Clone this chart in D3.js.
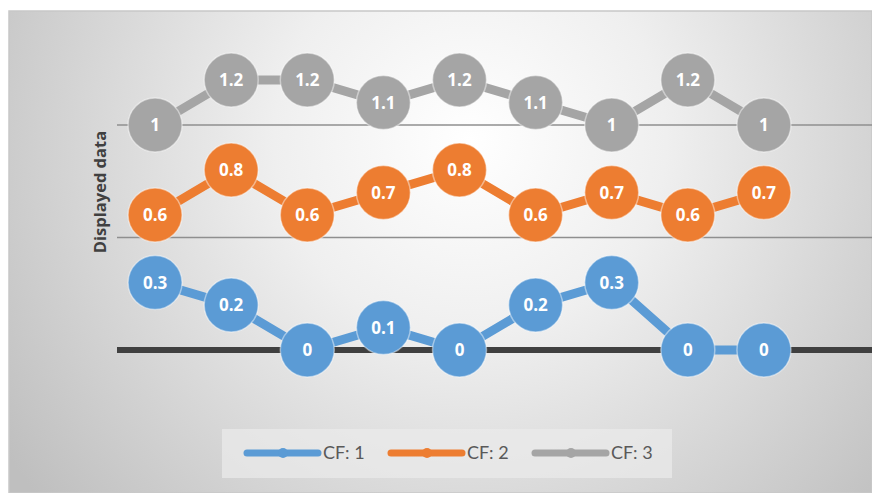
<!DOCTYPE html>
<html>
<head>
<meta charset="utf-8">
<script src="https://cdn.jsdelivr.net/npm/d3@7"></script>
<style>
  body { margin: 0; background: #fff; }
  svg { display: block; }
</style>
</head>
<body>
<svg width="872" height="493"></svg>
<script>
'use strict'

// data
var categories = [1, 2, 3, 4, 5, 6, 7, 8, 9];
var cf1 = [0.3, 0.2, 0, 0.1, 0, 0.2, 0.3, 0, 0];
var cf2 = [0.6, 0.8, 0.6, 0.7, 0.8, 0.6, 0.7, 0.6, 0.7];
var cf3 = [1, 1.2, 1.2, 1.1, 1.2, 1.1, 1, 1.2, 1];
var seriesNames = ["CF: 1", "CF: 2", "CF: 3"];
var seriesColours = ["#5b9bd5", "#ed7d31", "#a5a5a5"];
var gridTicks = [0, 0.5, 1];
var axisTitle = "Displayed data";

var svg = d3.select("svg"),
  width = +svg.attr("width"),
  height = +svg.attr("height");

var plot = {
  left: 117,
  right: 802,
  top: 12.5,
  zeroY: 350
};

var x = d3.scaleBand()
  .domain(categories)
  .range([plot.left, plot.right]);

var y = d3.scaleLinear()
  .domain([0, 1.5])
  .range([plot.zeroY, plot.top]);

// background
var defs = svg.append("defs");
var grad = defs.append("radialGradient")
  .attr("id", "bg")
  .attr("gradientUnits", "userSpaceOnUse")
  .attr("cx", 470)
  .attr("cy", 140)
  .attr("r", 560);
grad.append("stop").attr("offset", "0%").attr("stop-color", "#ffffff");
grad.append("stop").attr("offset", "35%").attr("stop-color", "#efefef");
grad.append("stop").attr("offset", "100%").attr("stop-color", "#bfbfbf");

svg.append("rect")
  .attr("x", 9)
  .attr("y", 11)
  .attr("width", width - 9)
  .attr("height", height - 11)
  .attr("fill", "url(#bg)")
  .attr("stroke", "#c8c8c8")
  .attr("stroke-width", 1.5);

// gridlines
svg.append("g")
  .selectAll("line")
  .data(gridTicks)
  .enter()
  .append("line")
  .attr("x1", plot.left)
  .attr("x2", width)
  .attr("y1", function(d) { return y(d); })
  .attr("y2", function(d) { return y(d); })
  .attr("stroke", function(d) { return d === 0 ? "#404040" : "#8f8f8f"; })
  .attr("stroke-width", function(d) { return d === 0 ? 6 : 1.3; });

// axis title
svg.append("text")
  .attr("transform", "translate(106," + 192 + ") rotate(-90)")
  .attr("text-anchor", "middle")
  .attr("font-family", "'Open Sans', sans-serif")
  .attr("font-weight", "bold")
  .attr("font-size", 16.5)
  .attr("fill", "#404040")
  .text(axisTitle);

var series = [cf1, cf2, cf3].map(function(vals, i) {
  return {
    name: seriesNames[i],
    colour: seriesColours[i],
    values: vals.map(function(v, j) { return { cat: categories[j], value: v }; })
  };
});

var line = d3.line()
  .x(function(d) { return x(d.cat) + x.bandwidth() / 2; })
  .y(function(d) { return y(d.value); });

var groups = svg.append("g")
  .selectAll("g")
  .data(series)
  .enter()
  .append("g");

groups.append("path")
  .attr("d", function(d) { return line(d.values); })
  .attr("fill", "none")
  .attr("stroke", function(d) { return d.colour; })
  .attr("stroke-width", 9);

groups.each(function(s) {
  var g = d3.select(this);
  var pts = g.selectAll("g.pt")
    .data(s.values)
    .enter()
    .append("g")
    .attr("class", "pt")
    .attr("transform", function(d) {
      return "translate(" + (x(d.cat) + x.bandwidth() / 2) + "," + y(d.value) + ")";
    });
  pts.append("circle")
    .attr("r", 27)
    .attr("fill", s.colour)
    .attr("stroke", "rgba(255,255,255,0.45)")
    .attr("stroke-width", 1.5);
  pts.append("text")
    .attr("text-anchor", "middle")
    .attr("dy", "0.36em")
    .attr("font-family", "'Open Sans', sans-serif")
    .attr("font-weight", "bold")
    .attr("font-size", 17)
    .attr("fill", "#ffffff")
    .text(function(d) { return d.value; });
});

// legend
var legend = svg.append("g");
legend.append("rect")
  .attr("x", 222)
  .attr("y", 429)
  .attr("width", 450)
  .attr("height", 49)
  .attr("fill", "#ebebeb")
  .attr("opacity", 0.7);

var items = legend.selectAll("g.item")
  .data(series)
  .enter()
  .append("g")
  .attr("class", "item")
  .attr("transform", function(d, i) { return "translate(" + (247 + i * 144) + ",453)"; });

items.append("line")
  .attr("x1", 0)
  .attr("x2", 71)
  .attr("stroke", function(d) { return d.colour; })
  .attr("stroke-width", 7)
  .attr("stroke-linecap", "round");

items.append("circle")
  .attr("cx", 36)
  .attr("r", 5)
  .attr("fill", function(d) { return d.colour; });

items.append("text")
  .attr("x", 76)
  .attr("dy", "0.35em")
  .attr("font-family", "Lato, 'Open Sans', sans-serif")
  .attr("font-size", 18)
  .attr("fill", "#595959")
  .text(function(d) { return d.name; });
</script>
</body>
</html>
